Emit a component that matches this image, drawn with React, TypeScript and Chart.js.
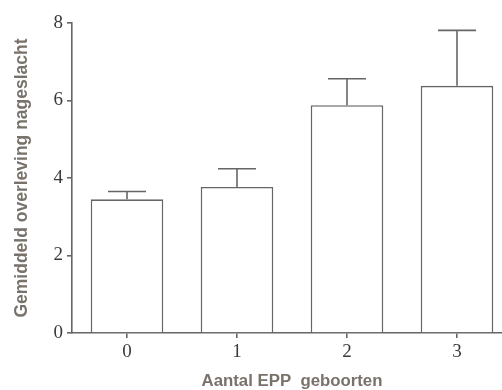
import React, { useEffect, useRef } from "react";
import { Chart, registerables } from "chart.js";

Chart.register(...registerables);

const categories = ["0", "1", "2", "3"];
const means = [3.45, 3.77, 5.88, 6.38];
const errorTops = [3.65, 4.24, 6.56, 7.81];
const yTicks = [0, 2, 4, 6, 8];

const LINE = "#666666";
const TITLE = "#78726b";
const TICK = "#3a3a3a";

const errorBarPlugin = {
  id: "errorBars",
  afterDatasetsDraw(chart: any) {
    const { ctx, scales } = chart;
    const x = scales.x;
    const y = scales.y;
    ctx.save();
    ctx.strokeStyle = LINE;
    ctx.lineWidth = 1.6;
    means.forEach((m, i) => {
      const cx = x.getPixelForValue(i);
      const y0 = y.getPixelForValue(m);
      const y1 = y.getPixelForValue(errorTops[i]);
      const half = 19;
      ctx.beginPath();
      ctx.moveTo(cx, y0);
      ctx.lineTo(cx, y1);
      ctx.moveTo(cx - half, y1);
      ctx.lineTo(cx + half, y1);
      ctx.stroke();
    });
    ctx.restore();
  },
};

export default function App() {
  const ref = useRef<HTMLCanvasElement>(null);
  useEffect(() => {
    if (!ref.current) return;
    const chart = new Chart(ref.current, {
      type: "bar",
      data: {
        labels: categories,
        datasets: [
          {
            data: means,
            backgroundColor: "#ffffff",
            borderColor: LINE,
            borderWidth: 1.6,
            categoryPercentage: 1,
            barPercentage: 0.66,
          },
        ],
      },
      options: {
        animation: false,
        responsive: false,
        layout: { padding: { top: 23, right: 0, left: 0, bottom: 0 } },
        plugins: { legend: { display: false }, tooltip: { enabled: false } },
        scales: {
          x: {
            afterFit(scale: any) {
              scale.height = 57;
            },
            grid: {
              offset: false,
              drawOnChartArea: false,
              drawTicks: true,
              tickLength: 5,
              tickColor: LINE,
              lineWidth: 1.6,
            },
            border: { display: true, color: LINE, width: 1.6 },
            ticks: {
              color: TICK,
              padding: 3,
              font: { family: "'Liberation Serif', serif", size: 19 },
              maxRotation: 0,
            },
            title: {
              display: true,
              text: "Aantal EPP  geboorten",
              color: TITLE,
              font: { family: "'Liberation Sans', Arial, sans-serif", size: 16.8, weight: "bold", lineHeight: 1 },
              padding: { top: 0, bottom: 0 },
            },
          },
          y: {
            min: 0,
            max: 8,
            afterFit(scale: any) {
              scale.width = 72;
            },
            afterBuildTicks(scale: any) {
              scale.ticks = yTicks.map((v) => ({ value: v }));
            },
            grid: {
              drawOnChartArea: false,
              drawTicks: true,
              tickLength: 5,
              tickColor: LINE,
              lineWidth: 1.6,
            },
            border: { display: true, color: LINE, width: 1.6 },
            ticks: {
              color: TICK,
              padding: 4,
              font: { family: "'Liberation Serif', serif", size: 19 },
            },
            title: {
              display: true,
              text: "Gemiddeld overleving nageslacht",
              color: TITLE,
              font: { family: "'Liberation Sans', Arial, sans-serif", size: 17.5, weight: "bold", lineHeight: 1.2 },
              padding: { top: 11.5, bottom: 0 },
            },
          },
        },
      },
      plugins: [errorBarPlugin],
    });
    return () => chart.destroy();
  }, []);
  return (
    <div
      style={{
        position: "fixed",
        left: 0,
        top: 0,
        width: 502,
        height: 390,
        overflow: "hidden",
        background: "#ffffff",
      }}
    >
      <canvas ref={ref} width={512} height={390} style={{ display: "block" }} />
    </div>
  );
}
